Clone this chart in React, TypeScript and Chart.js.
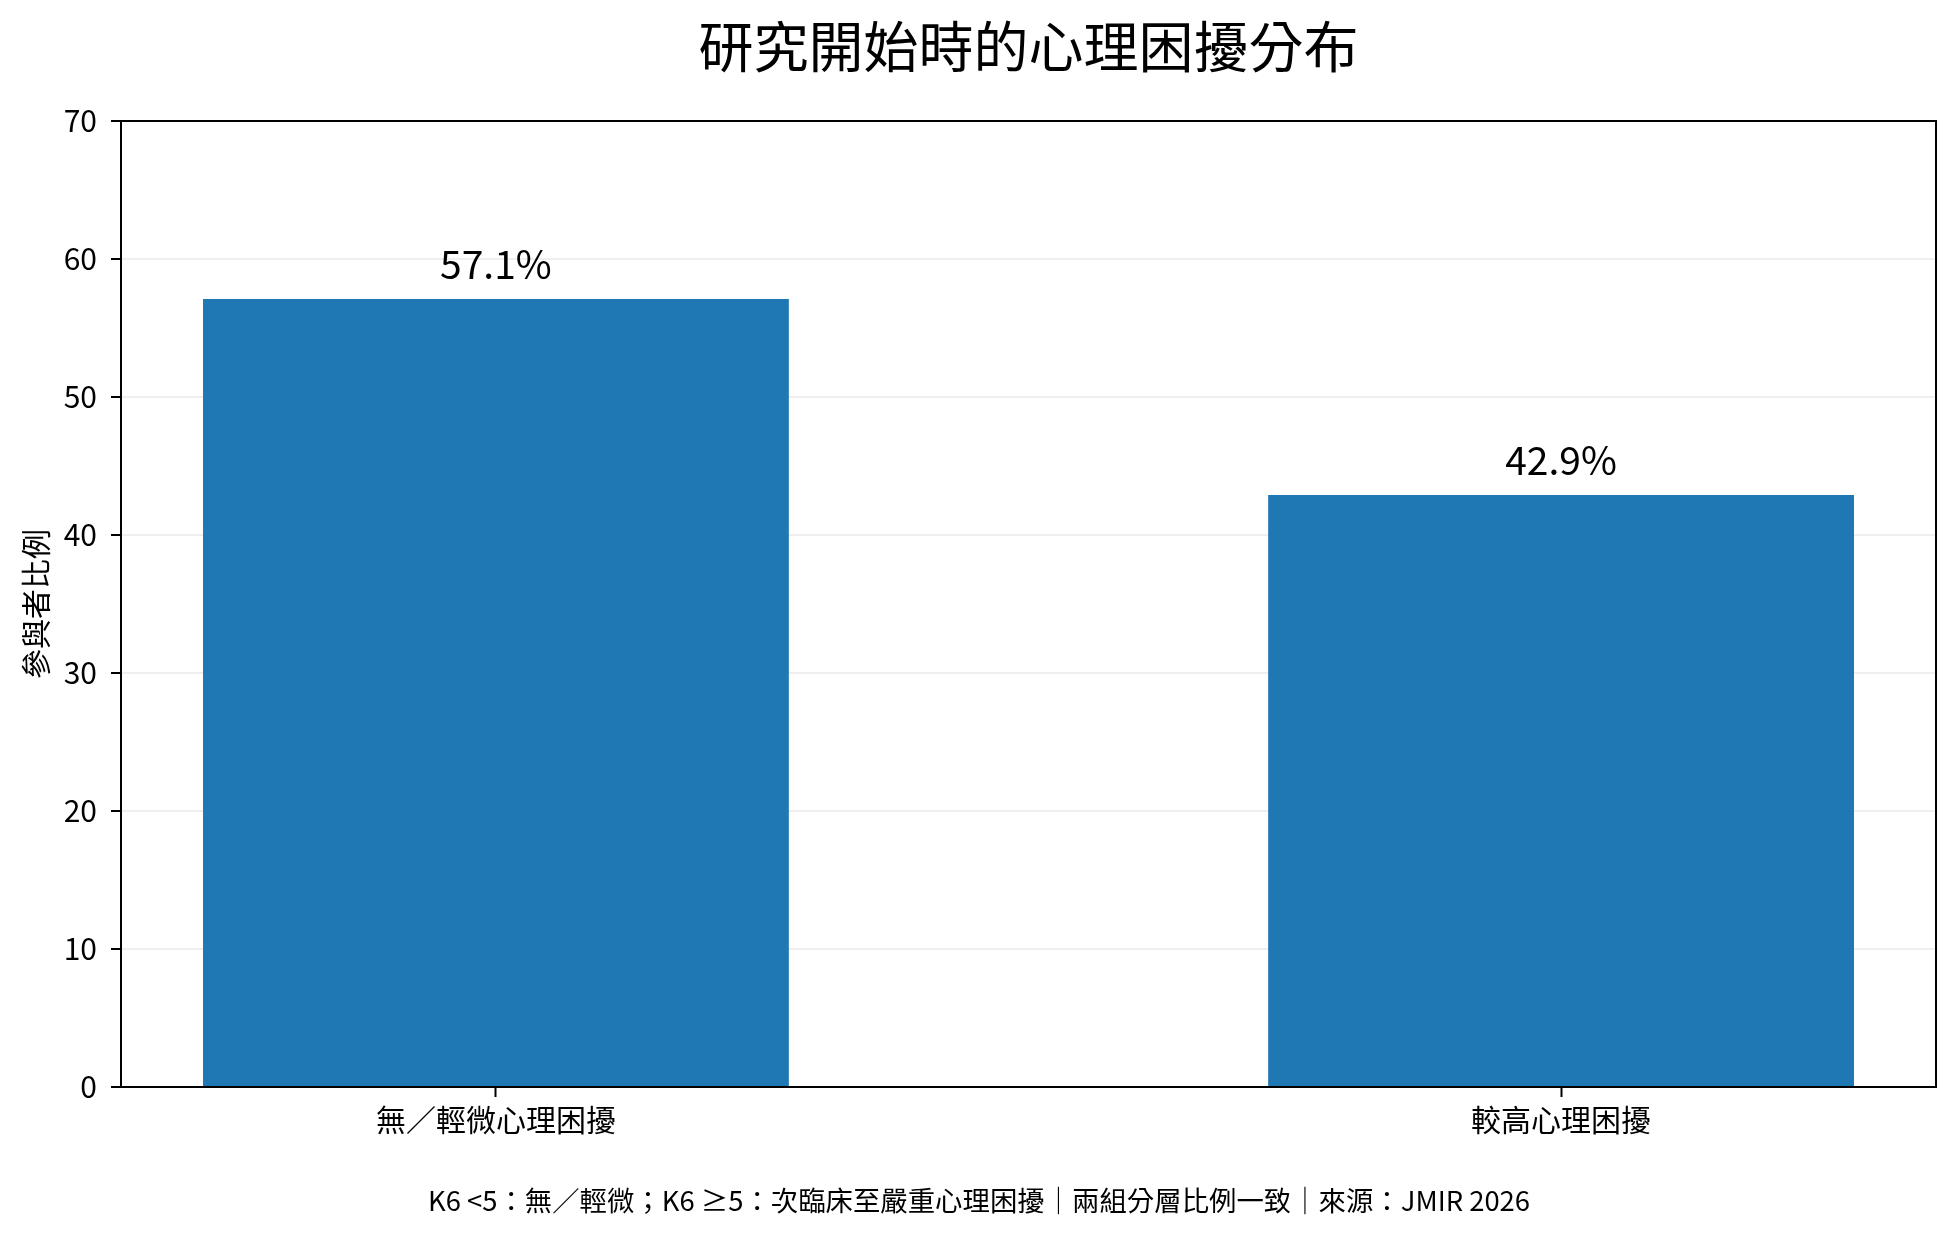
import React, { useEffect, useRef } from 'react';
import { Chart, registerables } from 'chart.js';

Chart.register(...registerables);

const categories: string[] = ['無／輕微心理困擾', '較高心理困擾'];
const shares: number[] = [57.1, 42.9];
const yTicks: number[] = [0, 10, 20, 30, 40, 50, 60, 70];
const chartTitle = '研究開始時的心理困擾分布';
const yAxisLabel = '參與者比例';
const footnote = 'K6 <5：無／輕微；K6 ≥5：次臨床至嚴重心理困擾｜兩組分層比例一致｜來源：JMIR 2026';

const FONT = "'Noto Sans CJK TC', 'Noto Sans CJK SC', 'Noto Sans', sans-serif";

export default function App() {
  const canvasRef = useRef<HTMLCanvasElement | null>(null);

  useEffect(() => {
    document.body.style.margin = '0';
    const canvas = canvasRef.current;
    if (!canvas) return;

    const framePlugin = {
      id: 'frameAndText',
      afterDatasetsDraw(chart: any) {
        const ctx = chart.ctx as CanvasRenderingContext2D;
        const meta = chart.getDatasetMeta(0);
        ctx.save();
        ctx.fillStyle = '#000';
        ctx.font = `39px ${FONT}`;
        ctx.textAlign = 'center';
        ctx.textBaseline = 'alphabetic';
        meta.data.forEach((bar: any, i: number) => {
          ctx.fillText(shares[i].toFixed(1) + '%', bar.x, bar.y - 20);
        });
        ctx.restore();
      },
      afterDraw(chart: any) {
        const ctx = chart.ctx as CanvasRenderingContext2D;
        const a = chart.chartArea;
        ctx.save();
        ctx.strokeStyle = '#000';
        ctx.lineWidth = 2;
        ctx.strokeRect(a.left, a.top, a.right - a.left, a.bottom - a.top);
        ctx.fillStyle = '#000';
        ctx.textAlign = 'center';
        ctx.textBaseline = 'middle';
        ctx.font = `55px ${FONT}`;
        ctx.fillText(chartTitle, (a.left + a.right) / 2, 46);
        ctx.font = `27.4px ${FONT}`;
        ctx.fillText(footnote, chart.width / 2, 1201);
        ctx.restore();
      },
    };

    const tickFont = { family: FONT, size: 30 };

    const chart = new Chart(canvas, {
      type: 'bar',
      data: {
        datasets: [
          {
            data: categories.map((c, i) => ({ x: i, y: shares[i] })),
            backgroundColor: '#1f77b4',
            borderWidth: 0,
            categoryPercentage: 1,
            barPercentage: 0.55,
          },
        ],
      },
      options: {
        responsive: false,
        animation: false,
        devicePixelRatio: 1,
        layout: { padding: { top: 121, right: 22, bottom: 90, left: 0 } },
        plugins: {
          legend: { display: false },
          title: { display: false },
          tooltip: { enabled: false },
        },
        scales: {
          x: {
            type: 'linear',
            min: -0.352,
            max: 1.352,
            offset: false,
            afterBuildTicks: (s: any) => {
              s.ticks = categories.map((_, i) => ({ value: i }));
            },
            afterFit: (s: any) => {
              s.height = 60;
            },
            ticks: {
              callback: (v: any) => categories[v as number] ?? '',
              font: tickFont,
              color: '#000',
              padding: 5,
              autoSkip: false,
              maxRotation: 0,
            },
            grid: {
              offset: false,
              drawOnChartArea: false,
              drawTicks: true,
              tickLength: 10,
              tickColor: '#000',
              tickWidth: 2,
            },
            border: { color: '#000', width: 2 },
          },
          y: {
            type: 'linear',
            min: 0,
            max: 70,
            z: 1,
            afterBuildTicks: (s: any) => {
              s.ticks = yTicks.map((v) => ({ value: v }));
            },
            afterFit: (s: any) => {
              s.width = 121;
            },
            ticks: {
              font: tickFont,
              color: '#000',
              padding: 14,
            },
            grid: {
              color: 'rgba(176,176,176,0.2)',
              lineWidth: 2,
              tickColor: '#000',
              tickLength: 10,
              tickWidth: 2,
            },
            border: { color: '#000', width: 2 },
            title: {
              display: true,
              text: yAxisLabel,
              font: tickFont,
              color: '#000',
              padding: { top: 18, bottom: 0 },
            },
          },
        },
      },
      plugins: [framePlugin],
    } as any);

    return () => {
      chart.destroy();
    };
  }, []);

  return (
    <div style={{ width: 1958, height: 1237 }}>
      <canvas ref={canvasRef} width={1958} height={1237} style={{ display: 'block', width: 1958, height: 1237 }} />
    </div>
  );
}
